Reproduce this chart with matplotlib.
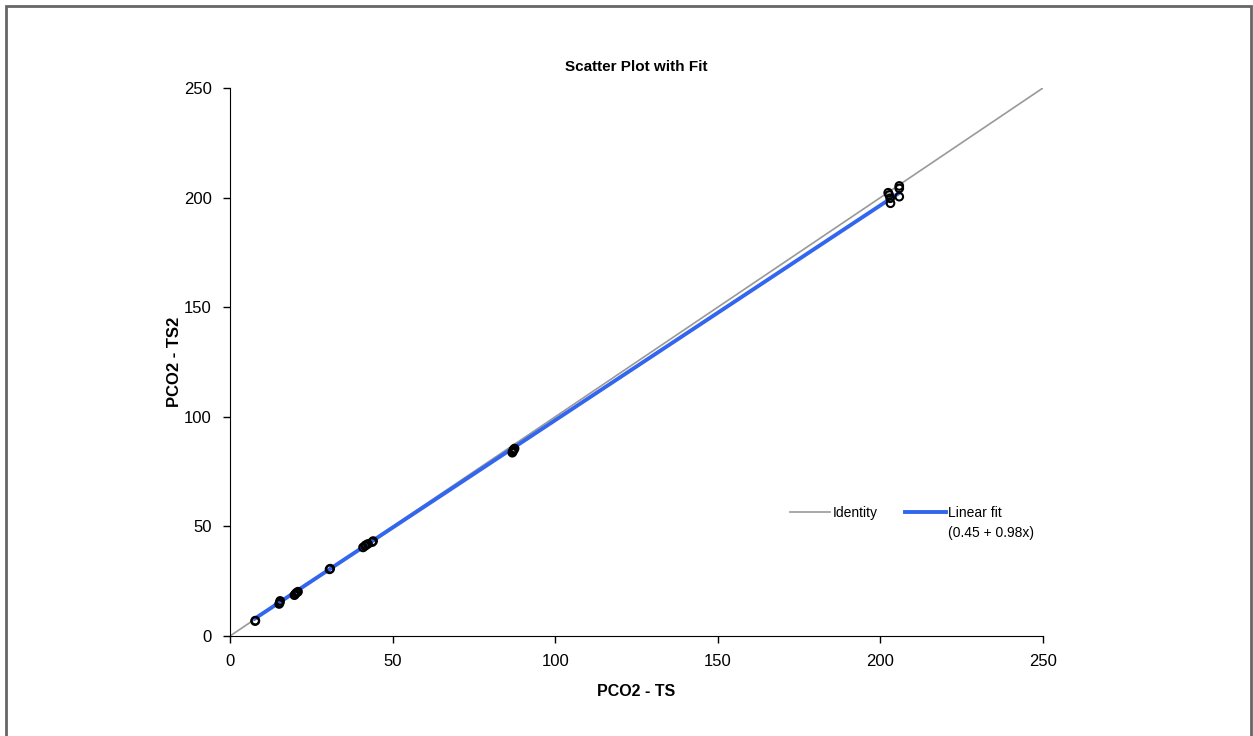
import matplotlib
matplotlib.use("Agg")
import matplotlib.pyplot as plt
import numpy as np

plt.rcParams['font.family'] = ['Liberation Sans', 'DejaVu Sans']

# measured values (PCO2 - TS vs PCO2 - TS2)
ts = [7.7, 7.8, 15.1, 15.3, 15.4, 19.8, 20.1, 20.5, 20.9, 30.6, 30.8,
      40.9, 41.5, 41.8, 42.4, 43.7, 44.0, 86.8, 87.0, 87.1, 87.3, 87.5,
      202.4, 202.7, 203.0, 203.1, 205.8, 205.8, 205.8]
ts2 = [6.8, 7.0, 14.6, 15.2, 16.0, 18.6, 19.2, 19.8, 20.2, 30.4, 30.7,
       40.4, 41.1, 41.5, 42.0, 42.8, 43.3, 83.6, 84.2, 84.7, 85.1, 85.5,
       202.2, 201.2, 199.7, 197.4, 205.3, 204.2, 200.4]

fit_a = 0.45
fit_b = 0.98
ident = [0, 250]

fig = plt.figure(figsize=(12.53, 7.36), dpi=100)
ax = fig.add_axes([0.1836, 0.1359, 0.6488, 0.7446])

# outer frame
fig.patches.append(plt.Rectangle((6/1253, -0.01), 1245/1253, 1.0-6/736+0.01,
                                 transform=fig.transFigure, fill=False,
                                 edgecolor='#666666', lw=2))

ax.plot(ident, ident, color='#999999', lw=1.2, label='Identity', zorder=1)
xf = np.array([min(ts), max(ts)])
ax.plot(xf, fit_a + fit_b*xf, color='#3366ee', lw=2.8, label='Linear fit', zorder=2)
ax.scatter(ts, ts2, s=30, facecolors='none', edgecolors='black', lw=1.5, zorder=3)

ax.set_xlim(0, 250)
ax.set_ylim(0, 250)
ax.set_xticks([0, 50, 100, 150, 200, 250])
ax.set_yticks([0, 50, 100, 150, 200, 250])
ax.spines['top'].set_visible(False)
ax.spines['right'].set_visible(False)
ax.tick_params(axis='both', labelsize=12, length=5, width=1, direction='out', pad=8)

ax.set_title('Scatter Plot with Fit', fontsize=11, fontweight='bold', pad=12)
ax.set_xlabel('PCO2 - TS', fontsize=11.5, fontweight='bold', labelpad=11)
ax.set_ylabel('PCO2 - TS2', fontsize=12, fontweight='bold', labelpad=1.5)

ax.legend(loc='center left', bbox_to_anchor=(0.689, 0.2245), ncol=2, frameon=False,
          fontsize=10, handlelength=2.9, columnspacing=1.95, handletextpad=0.2,
          borderpad=0, borderaxespad=0)
ax.text(0.8831, 0.188, '(%.2f + %.2fx)' % (fit_a, fit_b), transform=ax.transAxes,
        fontsize=10, ha='left', va='center')

fig.savefig('out.png', dpi=100)
